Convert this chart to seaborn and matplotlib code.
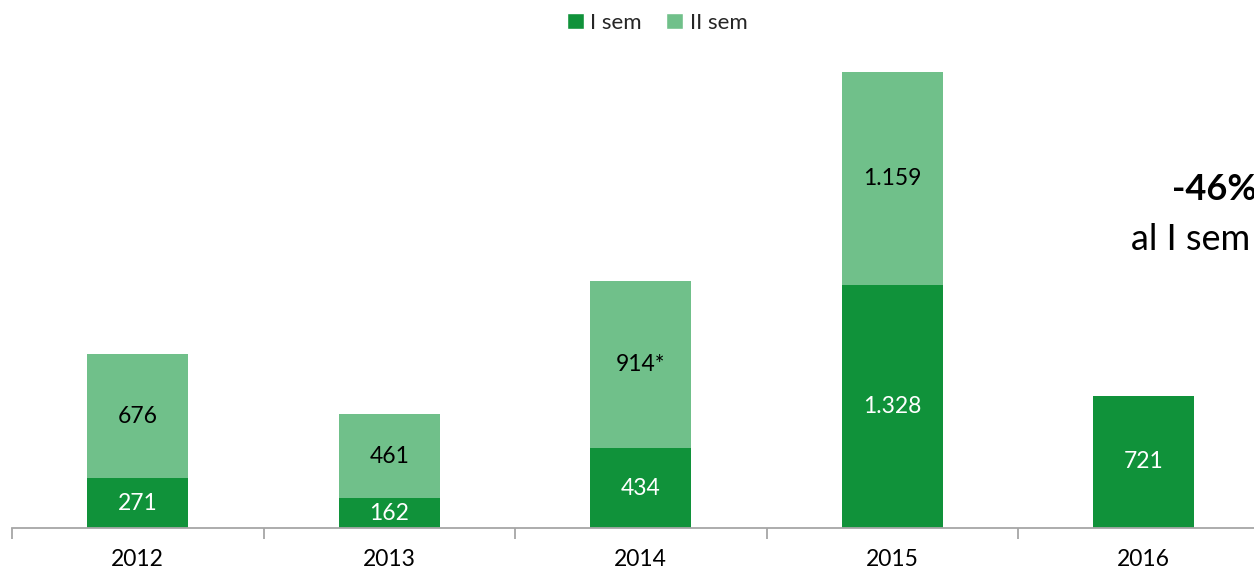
import matplotlib
matplotlib.use("Agg")
import matplotlib.pyplot as plt
import seaborn as sns
import pandas as pd
import numpy as np
from matplotlib.patches import Patch
from matplotlib.ticker import FixedLocator

# data
years = ["2012", "2013", "2014", "2015", "2016"]
sem1 = [271, 162, 434, 1328, 721]
sem2 = [676, 461, 914, 1159, 0]
sem1_labels = ["271", "162", "434", "1.328", "721"]
sem2_labels = ["676", "461", "914*", "1.159", ""]

dark = "#10923A"
light = "#70C08A"

sns.set_theme(style="white")
plt.rcParams["font.family"] = ["Lato", "DejaVu Sans"]

df = pd.DataFrame({"anno": years, "sem1": sem1, "sem2": sem2})

fig = plt.figure(figsize=(12.54, 5.77), dpi=100)
# axis runs past the right edge, as in the original crop
ax = fig.add_axes([12 / 1254, 49 / 577, 1257.5 / 1254, 456 / 577])

sns.barplot(data=df, x="anno", y="sem1", order=years, color=dark, width=0.4,
            saturation=1, linewidth=0, ax=ax)
sns.barplot(data=df, x="anno", y="sem2", order=years, color=light, width=0.4,
            saturation=1, linewidth=0, bottom=df["sem1"].values, ax=ax)

ax.bar_label(ax.containers[0], labels=sem1_labels, label_type="center",
             color="white", fontsize=16.5)
ax.bar_label(ax.containers[1], labels=sem2_labels, label_type="center",
             color="black", fontsize=16.5)

ax.set_xlim(-0.5, 4.5)
ax.set_ylim(0, 2487)
ax.set_xlabel("")
ax.set_ylabel("")
ax.set_yticks([])
for s in ["top", "right", "left"]:
    ax.spines[s].set_visible(False)
ax.spines["bottom"].set_color("#A6A6A6")
ax.spines["bottom"].set_linewidth(1.3)

ax.tick_params(axis="x", which="major", length=0, pad=15, labelsize=16.5,
               labelcolor="black")
ax.xaxis.set_minor_locator(FixedLocator(np.arange(-0.5, 5, 1.0)))
ax.tick_params(axis="x", which="minor", length=8, width=1.3, color="#A6A6A6",
               direction="out", bottom=True)

handles = [Patch(facecolor=dark, label="I sem"), Patch(facecolor=light, label="II sem")]
fig.legend(handles=handles, loc="upper center", bbox_to_anchor=(0.524, 1.012), ncol=2,
           frameon=False, fontsize=16, handlelength=0.75, handleheight=0.75,
           handletextpad=0.3, columnspacing=1.1)

fig.text(1172 / 1254, 1 - 190 / 577, "-46%", fontsize=26, fontweight="bold",
         ha="left", va="center", color="black")
fig.text(1131 / 1254, 1 - 240 / 577, "al I sem", fontsize=26,
         ha="left", va="center", color="black")

fig.savefig("out.png", dpi=100)
